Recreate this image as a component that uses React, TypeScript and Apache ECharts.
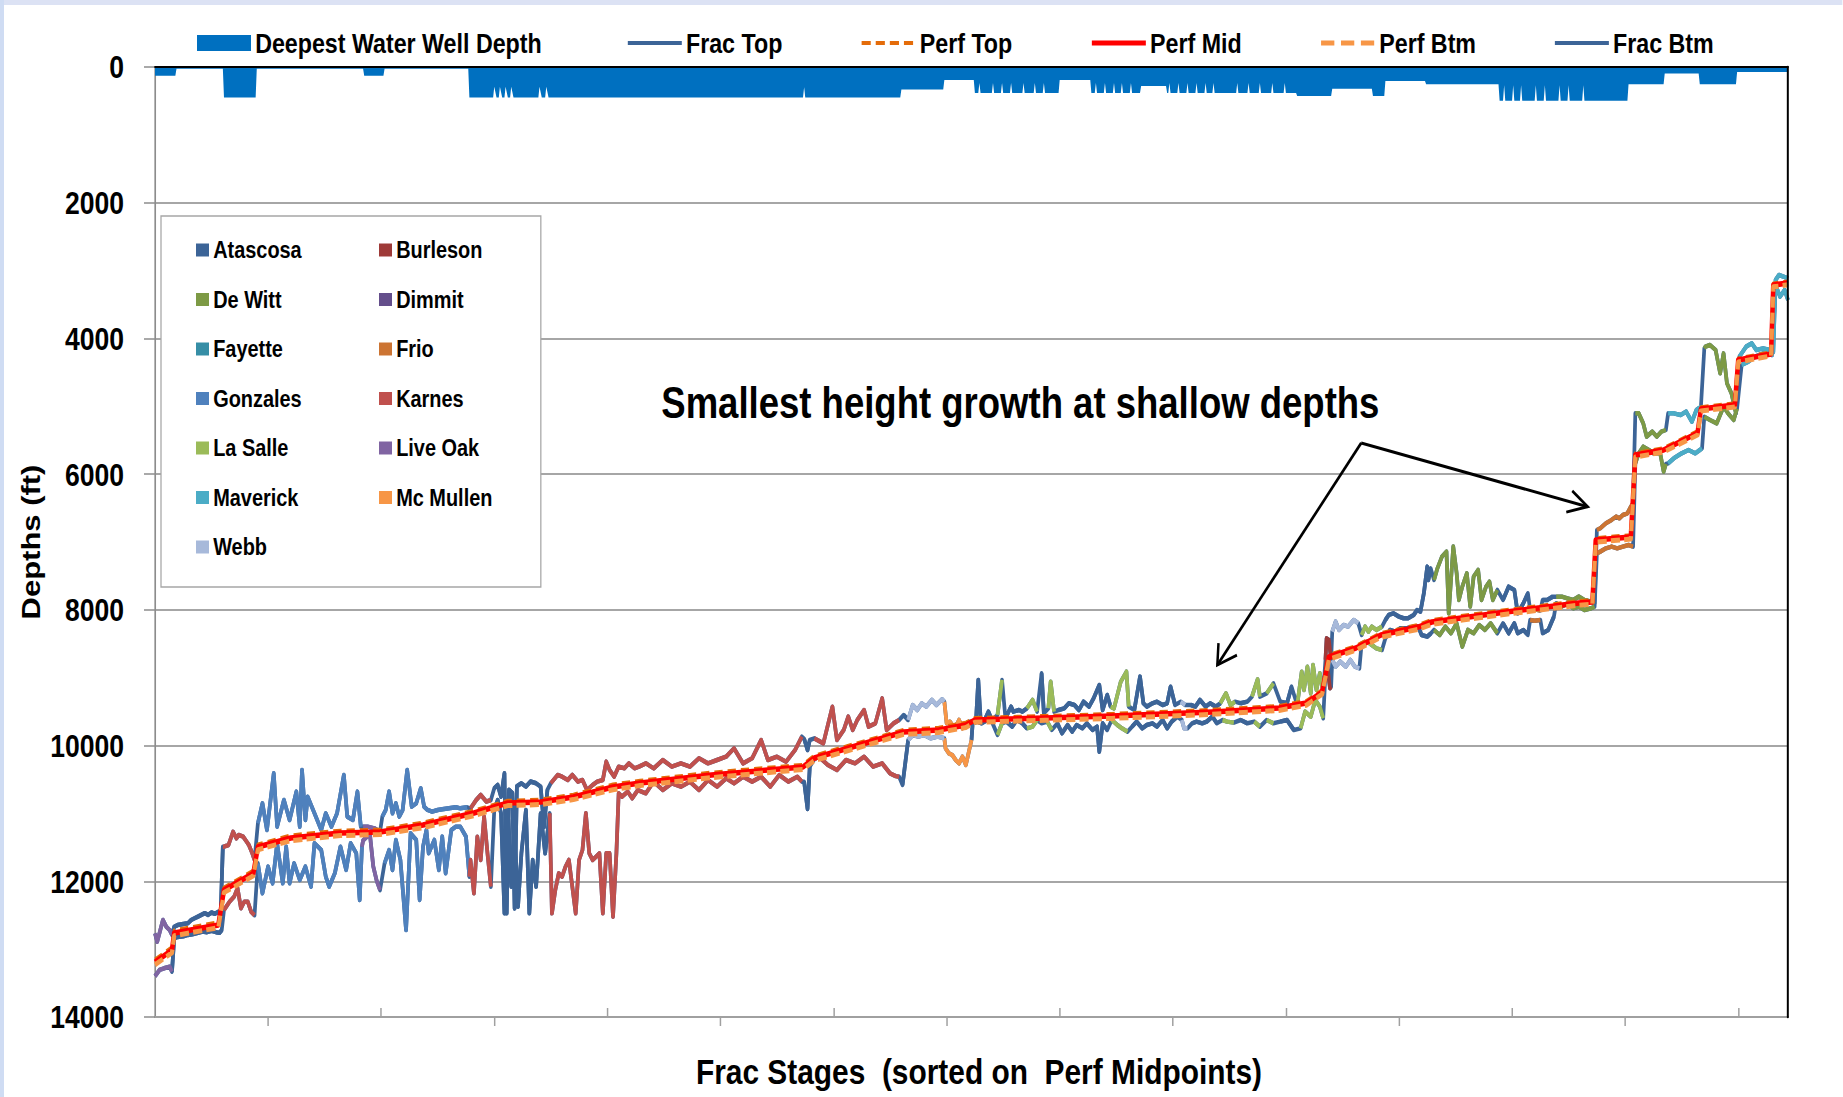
import React, { useEffect, useRef } from 'react';
import * as echarts from 'echarts';

// ---------- axes ----------
const STAGE_MIN = 0;
const STAGE_MAX = 1444;
const DEPTH_MIN = 0;
const DEPTH_MAX = 14000;
const DEPTH_STEP = 2000;
const xTicksInside = [200, 400, 600, 800, 1000, 1200, 1400];
const xTicksOutside = [100, 300, 500, 700, 900, 1100, 1300];

// ---------- series data: [stage, depth ft] ----------
const waterWellDepth = [
  [0,130],[18,130],[19,25],[60,25],[61,450],[89,450],[90,25],[184,25],[185,130],[202,130],[203,25],[277,25],[278,450],
  [299,450],[300,290],[302,450],[304,450],[305,290],[307,450],[309,450],[310,290],[312,450],[314,450],[315,290],[317,450],
  [339,450],[340,290],[342,450],[345,450],[346,290],[348,450],
  [573,450],[574,300],[575,450],
  [659,450],[660,330],[697,330],[698,192],[724,192],[725,383],
  [728,383],[729,236],[730,383],[740,383],[741,236],[742,383],[748,383],[749,236],[750,383],[756,383],[757,236],[758,383],[767,383],[768,236],[769,383],[777,383],[778,236],[779,383],[785,383],[786,236],[787,383],
  [799,383],[800,192],[827,192],[828,383],
  [831,383],[832,236],[833,383],[839,383],[840,236],[841,383],[847,383],[848,236],[849,383],[854,383],[855,236],[856,383],[862,383],[863,236],[864,383],
  [871,383],[872,280],[894,280],[895,383],
  [896,383],[897,236],[898,383],[904,383],[905,236],[906,383],[912,383],[913,236],[914,383],[920,383],[921,236],[922,383],[928,383],[929,236],[930,383],[935,383],[936,236],[937,383],[956,383],[957,236],[958,383],[966,383],[967,236],[968,383],[976,383],[977,236],[978,383],[987,383],[988,236],[989,383],[998,383],[999,236],[1000,383],
  [1009,383],[1010,427],[1040,427],[1041,320],[1076,320],[1077,427],[1087,427],[1088,206],[1123,206],[1124,255],[1188,255],[1189,496],
  [1192,496],[1193,270],[1194,496],[1200,496],[1201,270],[1202,496],[1207,496],[1208,270],[1209,496],[1220,496],[1221,270],[1222,496],[1228,496],[1229,270],[1230,496],[1241,496],[1242,270],[1243,496],[1249,496],[1250,270],[1251,496],[1262,496],[1263,270],[1264,496],
  [1302,496],[1303,255],[1334,255],[1335,97],[1365,97],[1366,255],[1398,255],[1399,75],[1444,75]
];

const fracTop = [
  [0,12767],[2,12890],[7,12570],[10,12670],[13,12720],[15,12790],
  [17,12670],[20,12645],[25,12630],[29,12620],[32,12570],[35,12545],[38,12520],[41,12495],[44,12470],[47,12495],[50,12460],[53,12480],[56,12450],[58,12520],
  [60,11490],[61,11490],[65,11465],[69,11270],[72,11368],[74,11318],[78,11343],[81,11416],[83,11465],[86,11588],[88,11686],
  [91,11146],[95,10851],[99,11244],[105,10409],[108,11195],[114,10802],[119,11097],[125,10679],[128,11195],[130,10360],[133,11097],[135,10753],[141,10998],[147,11244],[151,10998],[156,11195],[161,10998],[167,10433],[170,11047],[175,11097],[179,10679],[182,11195],
  [184,11195],[188,11195],[194,11220],[199,11269],
  [201,11047],[204,10949],[207,10679],[210,10998],[213,10851],[216,11047],[219,10949],[223,10360],[227,10900],[231,10851],[235,10630],[238,10900],[241,10949],[245,10974],[250,10949],[254,10939],[260,10925],[266,10910],[270,10925],[276,10910],
  [279,10925],[284,10802],[288,10728],[293,10827],[297,10802],
  [300,10630],[303,10581],[306,10753],[309,10409],[311,12470],[313,10650],[316,10700],[318,12400],[320,10600],[324,10556],[328,10605],[332,10530],[337,10556],[341,10605],[344,11200],[347,10650],
  [350,10556],[356,10433],[360,10458],[365,10507],[369,10433],[374,10532],[378,10507],[382,10655],[387,10581],[391,10532],[396,10507],[399,10237],[402,10360],[406,10458],[410,10311],[415,10335],[419,10262],[424,10335],[428,10311],
  [434,10262],[441,10336],[449,10213],[457,10311],[465,10262],[473,10311],[481,10188],[489,10262],[497,10213],[505,10164],[512,10041],[520,10262],[528,10188],[536,9918],[542,10213],[550,10164],[558,10238],[566,10066],[572,9869],
  [574,9900],[577,10066],[579,9918],
  [583,9894],[591,9967],[599,9427],[603,9918],[609,9771],[613,9574],[617,9771],[621,9623],[627,9476],[631,9722],[637,9673],[643,9304],[647,9771],[653,9673],[658,9623],
  [662,9550],[666,9623],
  [670,9402],[674,9476],[678,9377],[682,9426],[687,9328],[691,9402],[696,9318],[698,9353],
  [700,9672],[703,9648],[705,9697],[708,9721],[711,9623],[714,9746],[717,9672],[720,9648],
  [723,9647],[726,9623],[728,9033],[730,9598],[733,9647],[737,9500],[740,9623],[745,9549],[749,9033],[752,9598],[757,9426],[759,9500],[764,9476],[767,9500],[771,9451],[776,9328],[780,9500],[784,8935],[786,9525],[790,9451],[792,9058],[795,9500],[799,9476],[804,9451],[808,9377],[813,9402],[817,9476],[821,9353],[826,9426],[830,9304],[835,9107],[838,9476],[842,9254],[845,9426],[848,9451],[854,9058],[859,8911],[861,9426],[866,9476],[871,8984],[874,9377],[877,9426],[882,9377],[886,9353],[891,9402],[895,9377],[898,9132],[902,9402],[907,9353],[911,9402],[916,9402],[920,9426],[924,9328],[929,9426],[933,9377],[938,9426],[942,9377],[947,9230],[951,9402],[955,9353],[960,9377],[966,9353],[970,9279],[975,9024],[977,9279],[983,9230],[989,9083],[995,9353],[1001,9377],[1005,9132],[1010,9402],[1014,8911],[1016,9181],[1019,8837],[1022,9230],[1024,8812],[1027,9181],[1030,8935],[1033,9205],
  [1035,8739],[1036,8419],[1038,8444],[1040,8739],
  [1041,8321],[1044,8174],[1047,8296],[1051,8223],[1055,8247],[1060,8149],[1064,8198],
  [1067,8370],[1070,8247],[1073,8321],[1076,8247],[1080,8296],[1085,8247],
  [1088,8149],[1091,8075],[1095,8051],[1100,8100],[1104,8124],[1108,8124],[1113,8075],[1116,8002],[1119,8026],[1122,7756],[1125,7363],[1126,7560],[1128,7388],
  [1131,7559],[1134,7388],[1138,7216],[1142,7142],[1144,8051],[1148,7068],[1151,7461],[1153,7854],[1156,7658],[1160,7461],[1163,7952],[1166,7510],[1170,7412],[1173,7854],[1177,7658],[1180,7584],[1183,7854],[1187,7707],
  [1192,7854],[1197,7658],[1202,7707],[1205,8051],[1210,7903],[1214,7756],
  [1216,8002],[1220,7990],[1225,8010],
  [1227,7854],[1231,7854],[1236,7805],
  [1239,7805],[1244,7805],[1249,7830],[1254,7854],[1259,7805],[1264,7854],[1270,7879],[1273,7903],
  [1275,6823],[1278,6798],[1283,6724],[1288,6675],[1292,6626],[1295,6651],[1298,6602],[1302,6577],[1305,6479],[1307,6430],
  [1309,5104],[1312,5104],[1316,5251],[1319,5448],[1324,5374],[1328,5448],[1332,5374],[1336,5349],
  [1338,5104],[1343,5104],[1349,5128],[1354,5079],[1359,5227],[1363,5055],[1367,5006],
  [1370,4146],[1371,4121],[1375,4097],[1380,4171],[1384,4514],[1387,4220],[1390,4661],[1394,4809],[1398,5104],
  [1401,4269],[1407,4121],[1412,4072],[1416,4171],[1422,4146],[1428,4171],[1431,4200],[1433,3139],[1436,3065],[1440,3090],[1444,3114]
];

const fracBtm = [
  [0,13400],[4,13307],[8,13282],[13,13258],[15,13332],
  [17,12840],[20,12820],[25,12810],[29,12790],[33,12780],[38,12760],[42,12740],[46,12750],[50,12730],[54,12750],[57,12760],[59,12720],
  [61,12423],[66,12300],[70,12226],[73,12100],[76,12398],[79,12300],[82,12300],[85,12448],[88,12500],
  [91,11735],[95,12177],[100,11784],[104,12030],[108,11440],[113,12030],[116,11490],[119,12030],[123,11735],[128,11981],[133,11784],[138,12079],[141,11440],[147,11539],[151,11932],[154,12079],[159,11883],[164,11490],[169,11833],[173,11440],[178,11588],[181,12275],[183,11490],
  [184,11400],[190,11300],[193,11780],[196,11990],[199,12130],
  [203,11735],[207,11539],[210,11833],[213,11391],[217,11686],[222,12718],[226,11293],[231,11391],[234,12275],[237,11490],[240,11244],[242,11588],[247,11391],[251,11833],[254,11342],[257,11883],[262,11244],[266,11195],[270,11195],[275,11342],[278,11932],
  [279,11686],[282,12177],[285,11342],[288,11686],[291,11047],[294,11588],[297,12079],
  [300,10949],[303,10802],[306,10998],[309,12472],[312,10851],[315,12079],[318,11244],[321,12374],[324,11588],[328,10949],[331,12472],[334,11686],[337,12079],[341,11000],[345,11588],[349,10998],
  [351,12472],[354,12128],[357,11883],[360,11932],[363,11784],[366,11686],[369,12079],[372,12472],[375,11686],[378,11539],[381,10998],[384,11588],[387,11686],[390,11637],[393,11588],[396,12472],[399,11588],[402,11588],[405,12521],[408,11588],[410,10704],[413,10753],[418,10679],[422,10777],[427,10655],
  [434,10704],[441,10532],[449,10655],[457,10557],[465,10606],[473,10532],[481,10655],[489,10508],[497,10606],[505,10483],[512,10557],[520,10459],[528,10532],[536,10459],[544,10606],[552,10434],[560,10532],[568,10459],[572,10532],
  [574,10532],[577,10934],[579,10311],
  [583,10200],[587,10164],[595,10287],[603,10360],[611,10213],[619,10262],[627,10164],[635,10311],[643,10262],[650,10409],[655,10450],[658,10459],
  [661,10580],[666,9918],
  [670,9844],[675,9868],[680,9844],[686,9893],[692,9868],[698,9893],
  [699,10040],[702,10114],[705,10139],[708,10213],[711,10262],[714,10163],[717,10286],[720,10065],[722,9918],
  [723,9672],[727,9647],[731,9672],[736,9623],[740,9647],[745,9844],[749,9672],[753,9647],[758,9721],[762,9623],[767,9672],[771,9746],[776,9721],[780,9623],[784,9672],[789,9647],[793,9770],[798,9672],[802,9819],[807,9697],[811,9795],[815,9697],[820,9746],[824,9672],[829,9770],[833,9721],[835,10090],[838,9672],[842,9770],[846,9623],[851,9697],[855,9746],[860,9795],[864,9721],[868,9647],[873,9746],[877,9697],[882,9672],[886,9721],[891,9623],[895,9746],[899,9647],[904,9574],[908,9623],[910,9746],[913,9746],[917,9672],[921,9647],[926,9672],[930,9647],[935,9574],[939,9672],[944,9623],[948,9647],[954,9662],[960,9623],[966,9672],[972,9647],[977,9721],[983,9623],[989,9672],[995,9647],[1001,9623],[1007,9770],[1013,9746],
  [1017,9500],[1022,9574],[1026,9328],[1030,9426],[1033,9598],
  [1035,8935],[1036,8739],[1039,9156],[1040,9132],
  [1041,8739],[1044,8837],[1048,8763],[1053,8837],[1057,8739],[1061,8837],[1065,8862],
  [1067,8493],[1072,8468],[1076,8518],[1080,8567],[1085,8591],
  [1088,8419],[1092,8296],[1097,8321],[1101,8272],[1107,8272],[1113,8247],[1117,8247],[1120,8370],[1125,8395],[1128,8350],
  [1131,8296],[1136,8370],[1141,8247],[1146,8345],[1151,8198],[1156,8542],[1161,8296],[1166,8345],[1171,8223],[1176,8296],[1181,8198],[1187,8345],
  [1192,8198],[1197,8345],[1202,8198],[1205,8345],[1210,8296],[1214,8370],
  [1216,8149],[1220,8160],[1225,8149],
  [1227,8345],[1232,8296],[1237,8100],
  [1239,7903],[1244,7952],[1249,7903],[1254,7977],[1259,7952],[1264,8002],[1270,7977],[1273,7952],
  [1275,7167],[1278,7142],[1283,7093],[1288,7068],[1293,7093],[1298,7068],[1303,7044],[1307,7068],
  [1309,5841],[1312,5693],[1316,5595],[1321,5644],[1325,5693],[1331,5693],[1334,5963],[1336,5850],
  [1338,5841],[1343,5767],[1350,5693],[1356,5644],[1362,5693],[1366,5644],[1368,5620],
  [1370,5153],[1375,5202],[1381,5251],[1387,5006],[1391,5104],[1396,5202],[1399,5030],
  [1403,4392],[1409,4343],[1415,4269],[1422,4220],[1430,4244],[1433,3213],[1437,3385],[1441,3287],[1444,3434]
];

const perfMid = [
  [0,13190],[15,13013],[17,12762],[56,12644],[61,12128],[87,11880],[91,11495],[120,11362],[164,11288],[199,11273],[237,11170],[282,10994],[312,10847],[341,10832],[370,10758],[405,10610],[429,10552],[492,10434],[573,10316],[583,10183],[662,9800],[693,9771],[717,9697],[725,9623],[787,9594],[846,9565],[935,9505],[994,9447],[1018,9373],[1032,9211],[1038,8695],[1062,8562],[1084,8371],[1117,8253],[1129,8179],[1188,8046],[1259,7899],[1271,7884],[1274,6971],[1305,6926],[1309,5718],[1334,5644],[1364,5394],[1367,5040],[1397,4981],[1400,4318],[1429,4230],[1431,3213],[1444,3183]
];

const perfTop = [
  [0,13150],[15,12970],[17,12720],[56,12600],[61,12090],[87,11840],[91,11455],[120,11320],[164,11250],[199,11235],[237,11130],[282,10955],[312,10810],[341,10795],[370,10720],[405,10570],[429,10515],[492,10395],[573,10280],[583,10145],[662,9765],[693,9735],[717,9660],[725,9590],[787,9560],[846,9530],[935,9470],[994,9412],[1018,9340],[1032,9178],[1038,8660],[1062,8530],[1084,8338],[1117,8220],[1129,8146],[1188,8014],[1259,7867],[1271,7852],[1274,6940],[1305,6895],[1309,5688],[1334,5614],[1364,5364],[1367,5010],[1397,4952],[1400,4290],[1429,4202],[1431,3186],[1444,3156]
];

const perfBtm = [
  [0,13230],[15,13053],[17,12802],[56,12684],[61,12166],[87,11920],[91,11535],[120,11402],[164,11326],[199,11311],[237,11210],[282,11033],[312,10884],[341,10869],[370,10796],[405,10650],[429,10589],[492,10473],[573,10352],[583,10221],[662,9835],[693,9807],[717,9734],[725,9656],[787,9628],[846,9600],[935,9540],[994,9482],[1018,9406],[1032,9244],[1038,8730],[1062,8594],[1084,8404],[1117,8286],[1129,8212],[1188,8078],[1259,7931],[1271,7916],[1274,7002],[1305,6957],[1309,5748],[1334,5674],[1364,5424],[1367,5070],[1397,5010],[1400,4346],[1429,4258],[1431,3240],[1444,3210]
];

// ---------- counties ----------
const counties = ['Atascosa', 'Burleson', 'De Witt', 'Dimmit', 'Fayette', 'Frio', 'Gonzales', 'Karnes', 'La Salle', 'Live Oak', 'Maverick', 'Mc Mullen', 'Webb'];
const countyColors = ['#3C6497', '#9E3A38', '#7D9A45', '#644E8B', '#368EA6', '#CC7432', '#4F81BD', '#C0504D', '#9BBB59', '#8064A2', '#4BACC6', '#F79646', '#A7B9DA'];

// [county, first stage, last stage]
const countySegments: [string, number, number][] = [
  ['Live Oak', 0, 15], ['Atascosa', 15, 60], ['Karnes', 60, 89], ['Gonzales', 89, 183], ['Live Oak', 183, 200],
  ['Gonzales', 200, 278], ['Karnes', 278, 298], ['Atascosa', 298, 349], ['Karnes', 349, 573], ['Atascosa', 573, 580],
  ['Karnes', 580, 659], ['Atascosa', 659, 666], ['Webb', 666, 698], ['Mc Mullen', 698, 722], ['Atascosa', 722, 742],
  ['La Salle', 742, 750], ['Atascosa', 750, 771], ['La Salle', 771, 781], ['Atascosa', 781, 787], ['La Salle', 787, 796],
  ['Atascosa', 796, 845], ['La Salle', 845, 862], ['Atascosa', 862, 905], ['Webb', 905, 914], ['Atascosa', 914, 942],
  ['La Salle', 942, 958], ['Atascosa', 958, 969], ['La Salle', 969, 979], ['Atascosa', 979, 983], ['La Salle', 983, 992],
  ['Atascosa', 992, 1008], ['La Salle', 1008, 1034], ['Burleson', 1034, 1040], ['Webb', 1041, 1066], ['La Salle', 1066, 1086],
  ['Atascosa', 1087, 1129], ['De Witt', 1130, 1188], ['Atascosa', 1189, 1215], ['Frio', 1216, 1226], ['Atascosa', 1226, 1238],
  ['De Witt', 1238, 1274], ['Frio', 1275, 1308], ['De Witt', 1308, 1337], ['Maverick', 1337, 1368], ['De Witt', 1369, 1399],
  ['Maverick', 1400, 1444]
];

// ---------- annotation (data coordinates) ----------
const annotationText = 'Smallest height growth at shallow depths';
const annotationAnchor = [447.7, 4952];
const arrowApex = [1066.6, 5541];
const arrowTips = [[939.4, 8813], [1266.8, 6480]];

// ---------- texts ----------
const yAxisTitle = 'Depths (ft)';
const xAxisTitle = 'Frac Stages  (sorted on  Perf Midpoints)';

// The reference is a horizontally squeezed slide; the chart is laid out in an
// unsqueezed space and compressed horizontally by SX.
const SX = 0.83;
const W = 1843, H = 1097;
const CW = Math.round(W / SX);
const ux = (v: number) => v / SX; // screen px (horizontal) -> chart px

const FONT = "'Liberation Sans', Arial, sans-serif";
const FRAC_COLOR = '#3C6497';

function countyData(name: string) {
  const out: any[] = [];
  for (const [c, s, e] of countySegments) {
    if (c !== name) continue;
    for (const p of fracTop) if (p[0] >= s && p[0] <= e) out.push(p);
    out.push(['-', '-']);
    for (const p of fracBtm) if (p[0] >= s && p[0] <= e) out.push(p);
    out.push(['-', '-']);
  }
  return out;
}

export default function App() {
  const ref = useRef<HTMLDivElement>(null);
  useEffect(() => {
    if (!ref.current) return;
    const chart = echarts.init(ref.current, undefined, { renderer: 'svg' });

    const baseLine = (name: string, data: any, color: string, width: number, type: any = 'solid') => ({
      name, type: 'line', data, symbol: 'none', showSymbol: false, connectNulls: false,
      lineStyle: { color, width, type, cap: 'butt', join: 'round' }, itemStyle: { color },
      emphasis: { disabled: true }, silent: true, z: 3,
    });

    const series: any[] = [];
    series.push({
      name: 'Deepest Water Well Depth', type: 'line', data: waterWellDepth, symbol: 'none', showSymbol: false,
      lineStyle: { width: 0, color: '#0070C0' }, itemStyle: { color: '#0070C0' },
      areaStyle: { color: '#0070C0', opacity: 1, origin: 'start' }, emphasis: { disabled: true }, silent: true, z: 2,
    });
    series.push(baseLine('Frac Top', fracTop, FRAC_COLOR, 4.5));
    series.push(baseLine('Frac Btm', fracBtm, FRAC_COLOR, 4.5));
    counties.forEach((c, i) => series.push(baseLine(c, countyData(c), countyColors[i], 4.5)));
    series.push(baseLine('Perf Top', perfTop, '#E46C0A', 3.5, [10, 6]));
    series.push(baseLine('Perf Mid', perfMid, '#FF0000', 5.5));
    series.push(baseLine('Perf Btm', perfBtm, '#F79646', 5, [11, 5]));

    const hideSym = { opacity: 0 };
    const rowGap = 25.5;
    const colStep = ux(183);
    const iconW = ux(13);
    const txtW = colStep - iconW - 5 - rowGap;

    const option: any = {
      animation: false,
      backgroundColor: '#FFFFFF',
      grid: { left: ux(155), right: CW - ux(1788), top: 67, bottom: 80, containLabel: false, outerBoundsMode: 'none' },
      xAxis: [
        {
          type: 'value', min: STAGE_MIN, max: STAGE_MAX, position: 'bottom',
          axisLine: { show: true, onZero: false, lineStyle: { color: '#A0A0A0', width: 2 } },
          axisTick: { show: true, inside: true, length: 9, customValues: xTicksInside, lineStyle: { color: '#A0A0A0', width: 1.8 } },
          axisLabel: { show: false }, splitLine: { show: false },
          name: xAxisTitle, nameLocation: 'middle', nameGap: 36, nameMoveOverlap: false,
          nameTextStyle: { fontFamily: FONT, fontWeight: 'bold', fontSize: 36, color: '#000', padding: [0, 0, 0, 18] },
        },
        {
          type: 'value', min: STAGE_MIN, max: STAGE_MAX, position: 'bottom',
          axisLine: { show: true, onZero: false, lineStyle: { color: '#A0A0A0', width: 2 } },
          axisTick: { show: true, inside: false, length: 9, customValues: xTicksOutside, lineStyle: { color: '#A0A0A0', width: 1.8 } },
          axisLabel: { show: false }, splitLine: { show: false },
        },
        {
          type: 'value', min: STAGE_MIN, max: STAGE_MAX, position: 'top', z: 10,
          axisLine: { show: true, onZero: false, lineStyle: { color: '#000', width: 2 } },
          axisTick: { show: false }, axisLabel: { show: false }, splitLine: { show: false },
        },
      ],
      yAxis: [
        {
          type: 'value', inverse: true, min: DEPTH_MIN, max: DEPTH_MAX, interval: DEPTH_STEP, position: 'left',
          axisLine: { show: true, onZero: false, lineStyle: { color: '#8C8C8C', width: 2 } },
          axisTick: { show: true, inside: false, length: ux(11), lineStyle: { color: '#8C8C8C', width: 1.5 } },
          axisLabel: { fontFamily: FONT, fontWeight: 'bold', fontSize: 32, color: '#000', margin: ux(31), formatter: (v: number) => String(v) },
          splitLine: { show: true, lineStyle: { color: '#A6A6A6', width: 2 } },
          name: yAxisTitle, nameLocation: 'middle', nameRotate: 90, nameGap: 134, nameMoveOverlap: false,
          nameTextStyle: { fontFamily: FONT, fontWeight: 'bold', fontSize: 31, color: '#000' },
        },
        {
          type: 'value', inverse: true, min: DEPTH_MIN, max: DEPTH_MAX, interval: DEPTH_STEP, position: 'right', z: 10,
          axisLine: { show: true, onZero: false, lineStyle: { color: '#000', width: 2.4 } },
          axisTick: { show: false }, axisLabel: { show: false }, splitLine: { show: false },
        },
      ],
      legend: [
        {
          selectedMode: false, orient: 'horizontal', left: ux(197), top: 28, padding: 0,
          itemWidth: ux(54), itemHeight: 16, itemGap: ux(20),
          textStyle: { fontFamily: FONT, fontWeight: 'bold', fontSize: 28, color: '#000', lineHeight: 30 },
          data: [
            { name: 'Deepest Water Well Depth', icon: 'rect', itemStyle: { color: '#0070C0' }, textStyle: { width: ux(351) } },
            { name: 'Frac Top', itemStyle: hideSym, lineStyle: { color: FRAC_COLOR, width: 4 }, textStyle: { width: ux(154) } },
            { name: 'Perf Top', itemStyle: hideSym, lineStyle: { color: '#E46C0A', width: 4, type: [11, 6] }, textStyle: { width: ux(150) } },
            { name: 'Perf Mid', itemStyle: hideSym, lineStyle: { color: '#FF0000', width: 5 }, textStyle: { width: ux(149) } },
            { name: 'Perf Btm', itemStyle: hideSym, lineStyle: { color: '#F79646', width: 5, type: [16, 8] }, textStyle: { width: ux(154) } },
            { name: 'Frac Btm', itemStyle: hideSym, lineStyle: { color: FRAC_COLOR, width: 4 }, textStyle: { width: ux(110) } },
          ],
        },
        {
          selectedMode: false, orient: 'horizontal', left: ux(161), top: 216, width: 2 * colStep - rowGap + 4,
          padding: [22, 0, 28, ux(35)], itemGap: rowGap, itemWidth: iconW, itemHeight: 13, icon: 'rect',
          backgroundColor: '#FFFFFF', borderColor: '#A6A6A6', borderWidth: 1.5,
          textStyle: { fontFamily: FONT, fontWeight: 'bold', fontSize: 24, color: '#000', lineHeight: 24, width: txtW },
          data: counties.map((c, i) => ({ name: c, icon: 'rect', itemStyle: { color: countyColors[i] } })),
        },
      ],
      series,
    };
    chart.setOption(option);

    // annotation placed through the axes' scales
    const px = (p: number[]) => chart.convertToPixel({ xAxisIndex: 0, yAxisIndex: 0 }, p) as number[];
    const apex = px(arrowApex);
    const g: any[] = [
      { type: 'rect', shape: { x: 0, y: 0, width: CW, height: 5 }, style: { fill: '#DCE2F4' }, silent: true },
      { type: 'rect', shape: { x: 0, y: 0, width: ux(4), height: H }, style: { fill: '#CFDCF3' }, silent: true },
    ];
    const a = px(annotationAnchor);
    g.push({
      type: 'text', x: a[0], y: a[1], silent: true,
      style: { text: annotationText, fill: '#000', font: `bold 44px ${FONT}`, align: 'left', verticalAlign: 'middle' },
    });
    arrowTips.forEach((t) => {
      const tip = px(t);
      g.push({ type: 'line', shape: { x1: apex[0], y1: apex[1], x2: tip[0], y2: tip[1] }, style: { stroke: '#000', lineWidth: 3 }, silent: true });
      // arrowhead built in screen space, then converted back to chart space
      const sx = (tip[0] - apex[0]) * SX, sy = tip[1] - apex[1];
      const len = Math.sqrt(sx * sx + sy * sy);
      const dx = sx / len, dy = sy / len;
      const L = 22, ang = Math.PI / 6;
      const arm = (s: number) => {
        const c = Math.cos(s * ang), sn = Math.sin(s * ang);
        const rx = dx * c - dy * sn, ry = dx * sn + dy * c;
        return [tip[0] - (L * rx) / SX, tip[1] - L * ry];
      };
      g.push({ type: 'polyline', shape: { points: [arm(1), tip, arm(-1)] }, style: { stroke: '#000', lineWidth: 3, fill: 'none' }, silent: true });
    });
    chart.setOption({ graphic: g });

    return () => chart.dispose();
  }, []);

  return (
    <div style={{ position: 'fixed', left: 0, top: 0, width: W, height: H, overflow: 'hidden', background: '#fff' }}>
      <div ref={ref} style={{ width: CW, height: H, transform: `scaleX(${SX})`, transformOrigin: '0 0' }} />
    </div>
  );
}
